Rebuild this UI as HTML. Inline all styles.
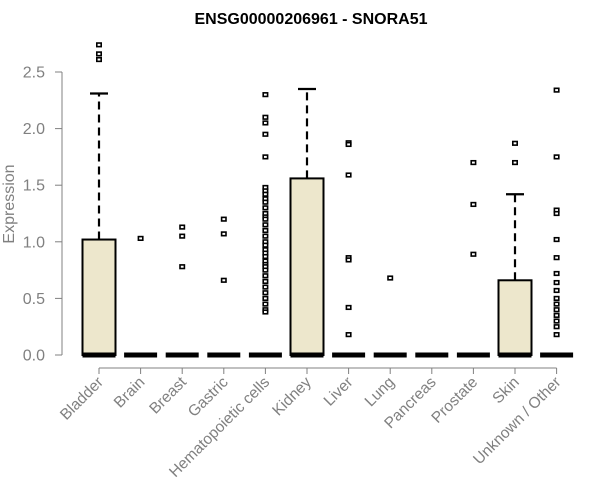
<!DOCTYPE html>
<html><head><meta charset="utf-8"><style>body{margin:0;background:#fff}svg{display:block;font-family:"Liberation Sans",Arial,sans-serif}</style></head>
<body>
<svg id="chart" width="600" height="500" viewBox="0 0 600 500">
<text x="311" y="24" text-anchor="middle" font-weight="bold" font-size="16">ENSG00000206961 - SNORA51</text>
<text transform="translate(14,204) rotate(-90)" text-anchor="middle" font-size="16" fill="#808080">Expression</text>
<g id="yaxis"></g>
<g id="xaxis"></g>
<g id="plot"></g>
</svg>
<script>
const categories=["Bladder","Brain","Breast","Gastric","Hematopoietic cells","Kidney","Liver","Lung","Pancreas","Prostate","Skin","Unknown / Other"];
const q1=[0,0,0,0,0,0,0,0,0,0,0,0];
const medians=[0,0,0,0,0,0,0,0,0,0,0,0];
const q3=[1.02,0,0,0,0,1.56,0,0,0,0,0.66,0];
const whiskerHigh=[2.31,0,0,0,0,2.35,0,0,0,0,1.42,0];
const outliers=[
[2.74,2.66,2.61],
[1.03],
[1.13,1.05,0.78],
[1.20,1.07,0.66],
[2.3,2.1,2.05,1.95,1.75,1.48,1.45,1.42,1.38,1.35,1.3,1.25,1.22,1.2,1.15,1.1,1.05,1.0,0.97,0.93,0.9,0.87,0.83,0.8,0.78,0.75,0.7,0.65,0.6,0.55,0.5,0.45,0.4,0.38],
[],
[1.875,1.86,1.59,0.86,0.84,0.42,0.18],
[0.68],
[],
[1.70,1.33,0.89],
[1.87,1.70],
[2.34,1.75,1.28,1.25,1.02,0.86,0.72,0.64,0.57,0.5,0.45,0.4,0.35,0.3,0.25,0.18]
];
const yTicks=[0,0.5,1.0,1.5,2.0,2.5];
const yTickLabels=["0.0","0.5","1.0","1.5","2.0","2.5"];
const NS="http://www.w3.org/2000/svg";
const y=v=>355-v*113.2;
const x=i=>99+i*41.6;
const hw=16.5;
function mk(tag,attrs,parent){const e=document.createElementNS(NS,tag);for(const k in attrs)e.setAttribute(k,attrs[k]);parent.appendChild(e);return e;}
const ya=document.getElementById('yaxis'),xa=document.getElementById('xaxis'),pl=document.getElementById('plot');
let l=mk('line',{x1:62,x2:62,y1:y(0),y2:y(2.5),stroke:'#808080'},ya);


yTicks.forEach((t,k)=>{
 const tk=mk('line',{x1:55,x2:62,y1:y(t),y2:y(t),stroke:'#808080'},ya);
 
 
 const tx=mk('text',{x:45,y:y(t)+5.5,'text-anchor':'end','font-size':16,fill:'#808080'},ya);
 tx.textContent=yTickLabels[k];
 
 
});
l=mk('line',{x1:x(0),x2:x(categories.length-1),y1:368,y2:368,stroke:'#808080'},xa);


categories.forEach((c,i)=>{
 const cx=x(i);
 const tk=mk('line',{x1:cx,x2:cx,y1:368,y2:374,stroke:'#808080'},xa);
 
 
 const tx=mk('text',{transform:`translate(${cx+5},${383}) rotate(-45)`,'text-anchor':'end','font-size':15.5,fill:'#808080'},xa);
 tx.textContent=c;
 
 
 const g=mk('g',{},pl);
 
 
 if(whiskerHigh[i]>q3[i]){
  mk('line',{x1:cx,x2:cx,y1:y(q3[i]),y2:y(whiskerHigh[i]),stroke:'#000','stroke-width':2.2,'stroke-dasharray':'8,5'},g);
  mk('line',{x1:cx-9,x2:cx+9,y1:y(whiskerHigh[i]),y2:y(whiskerHigh[i]),stroke:'#000','stroke-width':2.2},g);
 }
 if(q3[i]>q1[i]){
  mk('rect',{x:cx-hw,y:y(q3[i]),width:2*hw,height:y(q1[i])-y(q3[i]),fill:'#ede7cc',stroke:'#000','stroke-width':2},g);
 }
 mk('line',{x1:cx-hw,x2:cx+hw,y1:y(medians[i]),y2:y(medians[i]),stroke:'#000','stroke-width':5},g);
 outliers[i].forEach(v=>{
  const p=mk('rect',{x:cx-2.2,y:y(v)-1.8,width:4.4,height:3.6,fill:'#fff',stroke:'#000','stroke-width':1.6},g);
  
  
 });
});
</script>
</body></html>
